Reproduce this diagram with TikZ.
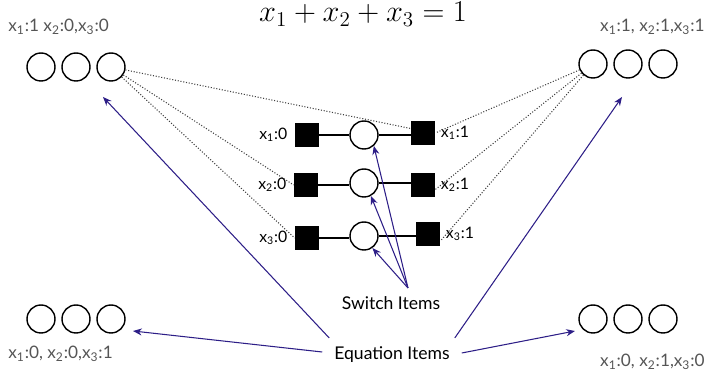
\documentclass[tikz,border=0pt]{standalone}
\usepackage{fontspec}
\setsansfont{Lato}
\usepackage{tikz}
\usetikzlibrary{arrows.meta, positioning}
\definecolor{itemblue}{RGB}{45,30,135}
\definecolor{itemgray}{RGB}{85,85,85}
\tikzset{
    chart/.style={x=0.02cm, y=-0.02cm, font=\sffamily},
    item circle/.style={circle, draw, line width=0.8pt,
        minimum size=0.56cm, inner sep=0pt},
    switch box/.style={fill=black, minimum size=0.48cm, inner sep=0pt},
    item link/.style={line width=0.7pt},
    item dots/.style={densely dotted, line width=0.6pt, black!75},
    item arrow/.style={-{Stealth[length=5pt, width=4pt]}, itemblue,
        line width=0.6pt},
    state label/.style={font=\sffamily\fontsize{9.8}{11}\selectfont,
        text=itemgray, inner sep=0pt},
    switch label/.style={font=\sffamily\fontsize{9}{10}\selectfont,
        inner sep=0pt},
    caption label/.style={font=\sffamily\fontsize{10}{12}\selectfont,
        inner sep=1pt},
}
\newcommand{\xv}[1]{x\textsubscript{#1}}

\begin{document}
\begin{tikzpicture}[chart]
    \useasboundingbox (0,0) rectangle (707,377);
    % constraint
    \node[anchor=base, inner sep=0pt] (eqn) at (363,22)
        {\LARGE $x_1+x_2+x_3=1$};
    % equation items
    \node[item circle] (tl1) at (41,67) {};
    \node[item circle] (tl2) at (76,67) {};
    \node[item circle] (tl3) at (111,67) {};
    \node[item circle] (tr1) at (593,64) {};
    \node[item circle] (tr2) at (628,64) {};
    \node[item circle] (tr3) at (663,64) {};
    \node[item circle] (bl1) at (41,319) {};
    \node[item circle] (bl2) at (76,319) {};
    \node[item circle] (bl3) at (111,319) {};
    \node[item circle] (br1) at (593,319) {};
    \node[item circle] (br2) at (628,319) {};
    \node[item circle] (br3) at (663,319) {};
    \node[state label, anchor=west] (tllabel) at (8,27)
        {\xv{1}:1 \xv{2}:0,\xv{3}:0};
    \node[state label, anchor=east] (trlabel) at (705,27)
        {\xv{1}:1, \xv{2}:1,\xv{3}:1};
    \node[state label, anchor=west] (bllabel) at (8,354)
        {\xv{1}:0, \xv{2}:0,\xv{3}:1};
    \node[state label, anchor=east] (brlabel) at (705,362)
        {\xv{1}:0, \xv{2}:1,\xv{3}:0};
    % switch items
    \node[switch box] (sl1) at (307,135) {};
    \node[item circle] (sc1) at (364,135) {};
    \node[switch box] (sr1) at (423,133) {};
    \node[switch box] (sl2) at (306,185) {};
    \node[item circle] (sc2) at (364,183) {};
    \node[switch box] (sr2) at (423,185) {};
    \node[switch box] (sl3) at (307,238) {};
    \node[item circle] (sc3) at (364,236) {};
    \node[switch box] (sr3) at (428,234) {};
    \node[switch label, left=4pt of sl1] (ll1) {\xv{1}:0};
    \node[switch label, left=4pt of sl2] (ll2) {\xv{2}:0};
    \node[switch label, left=4pt of sl3] (ll3) {\xv{3}:0};
    \node[switch label, right=3pt of sr1] (rl1) {\xv{1}:1};
    \node[switch label, right=3pt of sr2] (rl2) {\xv{2}:1};
    \node[switch label, right=3pt of sr3] (rl3) {\xv{3}:1};
    \draw[item link] (sl1.east) -- (sc1.west);
    \draw[item link] (sc1.east) -- (sc1.east -| sr1.west);
    \draw[item link] (sl2.east) -- (sl2.east -| sc2.west);
    \draw[item link] (sc2.east) -- (sc2.east -| sr2.west);
    \draw[item link] (sl3.east) -- (sl3.east -| sc3.west);
    \draw[item link] (sc3.east) -- (sc3.east -| sr3.west);
    % dotted links
    \draw[item dots] (tl3) -- (sr1.160);
    \draw[item dots] (tl3) -- (sl2.west);
    \draw[item dots] (tl3) -- (sl3.west);
    \draw[item dots] (tr1) -- (sr1.east);
    \draw[item dots] (tr1) -- (sr2.-20);
    \draw[item dots] (tr1) -- (sr3.-30);
    % captions
    \node[caption label] (switch) at (391,303) {Switch Items};
    \node[caption label] (equation) at (392,355) {Equation Items};
    \coordinate (swtip) at (408,288);
    \draw[item arrow] (swtip) -- (sc1.-48);
    \draw[item arrow] (swtip) -- (sc2.-62);
    \draw[item arrow] (swtip) -- (sc3.-55);
    \coordinate (tltip) at (103,97);
    \coordinate (trtip) at (622,97);
    \coordinate (bltip) at (133,331);
    \coordinate (brtip) at (575,331);
    \draw[item arrow] (equation.north west) ++(-3,-7) -- (tltip);
    \draw[item arrow] (equation.west) ++(-10,-3) -- (bltip);
    \draw[item arrow] (equation.north east) ++(3,-7) -- (trtip);
    \draw[item arrow] (equation.east) ++(10,-2) -- (brtip);
\end{tikzpicture}
\end{document}
